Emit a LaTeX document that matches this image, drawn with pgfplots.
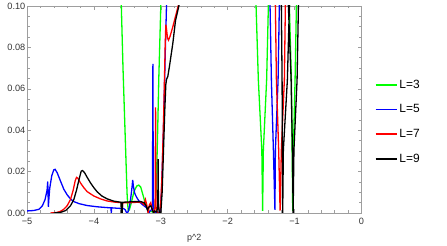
\documentclass[border=0pt]{standalone}
\usepackage{fontspec}
\setmainfont{Liberation Sans}
\usepackage{pgfplots}
\pgfplotsset{compat=1.18}
\definecolor{mgreen}{rgb}{0,1,0}
\definecolor{mblue}{rgb}{0,0,1}
\definecolor{mred}{rgb}{1,0,0}
\definecolor{framegray}{gray}{0.62}
\definecolor{lab}{gray}{0.2}
\begin{document}
\begin{tikzpicture}
\begin{axis}[
  scale only axis,
  width=334.5bp, height=207bp,
  xmin=-5, xmax=0, ymin=0, ymax=0.1,
  xtick={-5,-4,-3,-2,-1,0},
  xticklabels={−5,−4,−3,−2,−1,0},
  ytick={0,0.02,0.04,0.06,0.08,0.1},
  yticklabels={0.00,0.02,0.04,0.06,0.08,0.10},
  minor x tick num=4,
  minor y tick num=3,
  tick align=inside,
  major tick length=4bp,
  minor tick length=2.5bp,
  every tick/.style={draw=framegray, line width=0.5bp},
  axis line style={draw=framegray, line width=0.6bp},
  tick label style={font=\fontsize{9.2}{10}\selectfont, text=lab},
  yticklabel style={inner sep=1.5bp},
  xticklabel style={inner sep=2bp, yshift=-2.5bp},
  xlabel={p\textasciicircum 2},
  every axis x label/.style={at={(axis description cs:0.5,0)}, anchor=center, yshift=-25bp, font=\fontsize{9}{10}\selectfont, text=lab},
  legend style={at={(axis description cs:1.03,0.44)}, anchor=west, draw=none, fill=none,
    font=\fontsize{12}{12}\selectfont, row sep=11bp},
  legend cell align=left,
  legend image code/.code={\draw[#1, line width=1.7bp] (0bp,0bp) -- (21bp,0bp);},
]
% L=3
\addplot[draw=mgreen, line width=1.3bp] coordinates {
(-3.62,0.14) (-3.59,0.1) (-3.565,0.07) (-3.545,0.05) (-3.53,0.035) (-3.515,0.02) (-3.505,0.01) (-3.495,0.004) (-3.485,0.001) (-3.47,0.0015) (-3.44,0.005) (-3.40,0.0105) (-3.36,0.013) (-3.33,0.0135) (-3.30,0.0125) (-3.26,0.008) (-3.22,0.003) (-3.18,0.001) (-3.12,0.0005) (-3.09,0.002) (-3.07,0.01) (-3.05,0.035) (-3.03,0.065) (-3.0,0.1) (-2.98,0.14)
(-2.5,0.3) (-1.7,0.3) (-1.60,0.13)
(-1.576,0.1) (-1.542,0.0643) (-1.490,0.0304) (-1.478,0.001) (-1.467,0.0304) (-1.418,0.0643) (-1.392,0.1) (-1.38,0.13)
(-1.09,0.13) (-1.078,0.1) (-1.048,0.0643) (-1.037,0.0304) (-1.028,0.001) (-1.018,0.0304) (-0.993,0.0643) (-0.973,0.1) (-0.96,0.13)
};
\addlegendentry{L=3}
% L=5
\addplot[draw=mblue, line width=1.3bp] coordinates {
(-5,0.001) (-4.9,0.0012) (-4.82,0.0018) (-4.77,0.0035) (-4.73,0.0065) (-4.70,0.011) (-4.69,0.0152) (-4.685,0.009) (-4.68,0.003) (-4.675,0.006) (-4.66,0.012) (-4.63,0.018) (-4.60,0.0208) (-4.58,0.0211) (-4.55,0.0195) (-4.50,0.0155) (-4.45,0.0115) (-4.40,0.0088) (-4.35,0.0068) (-4.30,0.0055) (-4.22,0.0045) (-4.10,0.0036) (-3.95,0.003) (-3.80,0.0026) (-3.745,0.0025) (-3.74,0.0) (-3.735,0.0025) (-3.65,0.0023) (-3.60,0.0022)
(-3.56,0.0022) (-3.53,0.0015) (-3.51,0.0) (-3.49,0.0005) (-3.47,0.003) (-3.45,0.007) (-3.43,0.0125) (-3.42,0.016) (-3.41,0.013) (-3.39,0.0095) (-3.36,0.0075) (-3.32,0.0055) (-3.28,0.0042) (-3.24,0.0032) (-3.21,0.0025) (-3.19,0.001) (-3.175,0.0) (-3.16,0.001) (-3.14,0.0015) (-3.125,0.004) (-3.118,0.072) (-3.112,0.004) (-3.10,0.001) (-3.07,0.0) (-3.04,0.0) (-3.01,0.001) (-2.99,0.01) (-2.96,0.04) (-2.935,0.075) (-2.915,0.1) (-2.90,0.14)
(-2.5,0.3) (-1.5,0.3) (-1.38,0.13)
(-1.367,0.1) (-1.347,0.0643) (-1.317,0.0304) (-1.294,0.0015) (-1.287,0.0304) (-1.247,0.0643) (-1.228,0.1) (-1.21,0.13)
};
\addlegendentry{L=5}
% L=7
\addplot[draw=mred, line width=1.3bp] coordinates {
(-4.65,0.0) (-4.55,0.0003) (-4.50,0.0008) (-4.45,0.0018) (-4.40,0.0035) (-4.35,0.0065) (-4.31,0.011) (-4.28,0.0155) (-4.26,0.0172) (-4.24,0.0168) (-4.20,0.0145) (-4.15,0.0122) (-4.10,0.0103) (-4.0,0.0082) (-3.90,0.0068) (-3.80,0.0058) (-3.70,0.0053) (-3.60,0.005) (-3.585,0.0048) (-3.578,0.001) (-3.57,0.0048)
(-3.55,0.005) (-3.45,0.005) (-3.35,0.0052) (-3.28,0.005) (-3.25,0.004) (-3.23,0.0065) (-3.21,0.004) (-3.19,0.0) (-3.17,0.004) (-3.15,0.005) (-3.13,0.002) (-3.10,0.0) (-3.085,0.003) (-3.078,0.051) (-3.072,0.003) (-3.05,0.0) (-3.02,0.0) (-3.0,0.005) (-2.98,0.02) (-2.955,0.05) (-2.935,0.08) (-2.925,0.091) (-2.915,0.089) (-2.90,0.0845) (-2.885,0.0835) (-2.86,0.0855) (-2.82,0.09) (-2.78,0.095) (-2.74,0.1) (-2.70,0.11)
(-2.5,0.3) (-1.4,0.3) (-1.30,0.13)
(-1.287,0.1) (-1.272,0.0643) (-1.238,0.0304) (-1.217,0.0012) (-1.198,0.0304) (-1.153,0.0643) (-1.138,0.1) (-1.12,0.13)
};
\addlegendentry{L=7}
% L=9
\addplot[draw=black, line width=1.3bp] coordinates {
(-4.60,0.0) (-4.50,0.0003) (-4.42,0.0012) (-4.35,0.0035) (-4.30,0.0065) (-4.26,0.011) (-4.22,0.0165) (-4.19,0.0202) (-4.17,0.0205) (-4.14,0.0195) (-4.10,0.0172) (-4.05,0.0145) (-4.00,0.0122) (-3.95,0.0102) (-3.88,0.0082) (-3.80,0.0068) (-3.70,0.0057) (-3.62,0.0053) (-3.595,0.0052) (-3.59,0.0) (-3.578,0.0) (-3.572,0.0052)
(-3.50,0.0053) (-3.40,0.0055) (-3.30,0.0055) (-3.25,0.005) (-3.22,0.0035) (-3.20,0.0015) (-3.18,0.0028) (-3.15,0.0035) (-3.13,0.002) (-3.11,0.0) (-3.09,0.001) (-3.06,0.0005) (-3.045,0.004) (-3.04,0.026) (-3.035,0.003) (-3.02,0.0) (-3.0,0.0) (-2.98,0.01) (-2.96,0.03) (-2.94,0.05) (-2.925,0.062) (-2.915,0.0645) (-2.895,0.066) (-2.87,0.071) (-2.82,0.082) (-2.78,0.093) (-2.73,0.1) (-2.70,0.11)
(-2.5,0.3) (-1.4,0.3) (-1.21,0.13)
(-1.198,0.1) (-1.187,0.0643) (-1.183,0.0304) (-1.178,0.0) (-1.168,0.0304) (-1.108,0.0643) (-1.078,0.1) (-1.07,0.13)
(-1.10,0.13) (-1.093,0.1) (-1.052,0.0643) (-1.033,0.0304) (-1.022,0.0) (-1.010,0.0304) (-0.963,0.0643) (-0.943,0.1) (-0.93,0.13)
};
\addlegendentry{L=9}
\end{axis}
\pgfresetboundingbox
\path ([xshift=-27bp,yshift=-33bp]current axis.south west) rectangle ([xshift=85.5bp,yshift=6bp]current axis.north east);
\end{tikzpicture}
\end{document}
